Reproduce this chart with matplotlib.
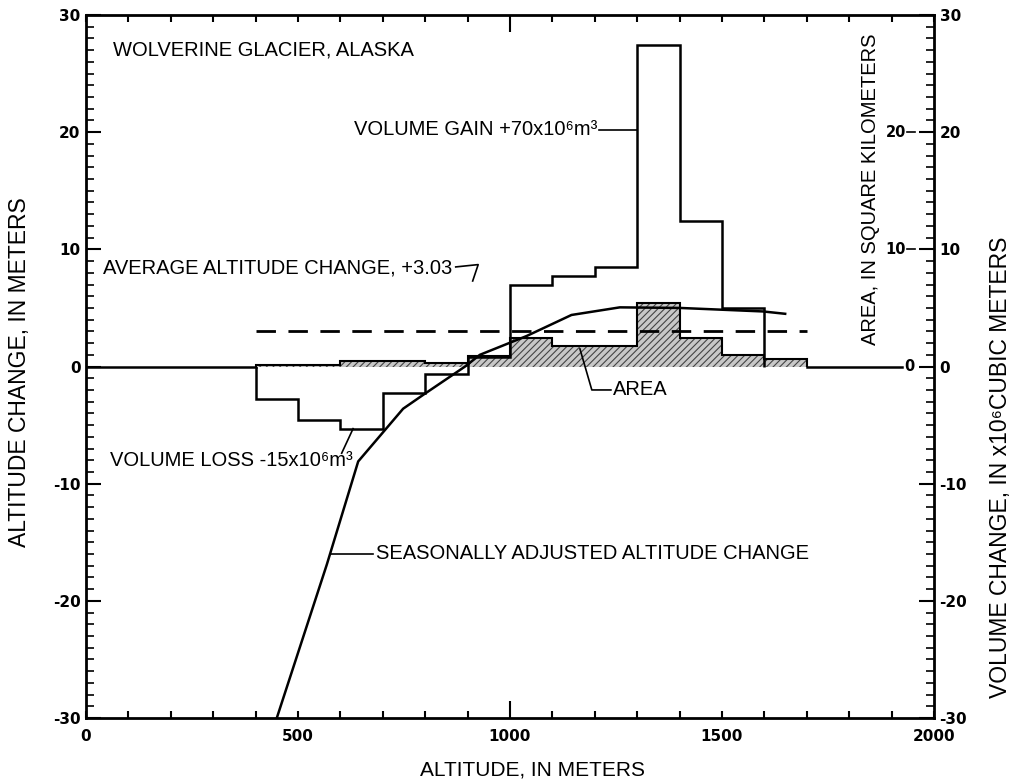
import numpy as np
import matplotlib
matplotlib.use("Agg")
import matplotlib.pyplot as plt

plt.rcParams['font.family'] = ['Liberation Sans', 'DejaVu Sans']
plt.rcParams['axes.unicode_minus'] = False
plt.rcParams['hatch.linewidth'] = 0.8

# volume change per 100 m altitude band (left scale, x10^6 m^3 on right)
vol_edges = [400, 500, 600, 700, 800, 900, 1000, 1100, 1200, 1300, 1400, 1500, 1600]
vol_change = [-2.8, -4.6, -5.3, -2.3, -0.6, 0.8, 7.0, 7.7, 8.5, 27.4, 12.4, 5.0]

# glacier area per band, km^2
area_edges = [400, 500, 600, 700, 800, 900, 1000, 1100, 1200, 1300, 1400, 1500, 1600, 1700]
area_km2 = [0.15, 0.15, 0.5, 0.5, 0.3, 0.9, 2.4, 1.75, 1.75, 5.4, 2.4, 1.0, 0.6]

# seasonally adjusted altitude change curve
curve_alt = [450, 568, 642, 748, 796, 894, 929, 1039, 1145, 1259, 1401, 1597, 1649]
curve_dz = [-30.0, -16.9, -8.1, -3.6, -2.4, 0.0, 1.0, 2.6, 4.4, 5.05, 5.0, 4.7, 4.5]

avg_change = 3.03
area_ticks = [0, 10, 20]

fig = plt.figure(figsize=(10.14, 7.83), dpi=100)
ax = fig.add_axes([0.0848, 0.0830, 0.8363, 0.8978])
ax.set_xlim(0, 2000)
ax.set_ylim(-30, 30)

for s in ax.spines.values():
    s.set_linewidth(2)

ax.set_xticks([0, 500, 1000, 1500, 2000])
ax.set_xticks(np.arange(0, 2001, 100), minor=True)
ax.set_yticks(np.arange(-30, 31, 10))
ax.set_yticks(np.arange(-30, 31, 1), minor=True)
ax.tick_params(axis='x', which='both', direction='in', top=True, bottom=True,
               length=5, width=1.5, pad=8, labelsize=11)
ax.tick_params(axis='y', which='major', direction='in', left=True, right=True,
               labelleft=True, labelright=True, length=11, width=1.5, pad=4, labelsize=11)
ax.tick_params(axis='y', which='minor', direction='in', left=True, right=True,
               length=6, width=1.2)
# longer tick at 1000 m, top and bottom
t1000 = ax.xaxis.get_major_ticks()[2]
t1000.tick1line.set_markersize(12)
t1000.tick2line.set_markersize(12)
for t in ax.xaxis.get_major_ticks() + ax.yaxis.get_major_ticks():
    for lab in (t.label1, t.label2):
        lab.set_fontweight('bold')
        lab.set_family('DejaVu Sans')

# zero line outside the glacier bands
ax.plot([0, vol_edges[0]], [0, 0], color='k', lw=1.8)
ax.plot([area_edges[-1], 1925], [0, 0], color='k', lw=1.8)

# area histogram, hatched and stippled grey
ax.stairs(area_km2, area_edges, baseline=0, fill=True, facecolor='#c8c8c8',
          edgecolor='#444444', hatch='/////', lw=0, zorder=2)
ax.stairs(area_km2, area_edges, baseline=0, color='k', lw=1.5, zorder=3)

# volume change outline
ax.stairs(vol_change, vol_edges, baseline=0, color='k', lw=1.8, zorder=3)

# average altitude change
ax.plot([vol_edges[0], area_edges[-1]], [avg_change, avg_change], color='k',
        lw=2, dashes=(7, 4.5), zorder=4)

# seasonally adjusted curve
ax.plot(curve_alt, curve_dz, color='k', lw=1.8, zorder=4)

tk = dict(fontsize=14.5, color='k')
ax.text(64, 27.0, 'WOLVERINE GLACIER, ALASKA', ha='left', va='center', **tk)

ax.text(1205, 20.2, 'VOLUME GAIN +70x10⁶m³', ha='right', va='center', **tk)
ax.plot([1210, vol_edges[9]], [20.2, 20.2], color='k', lw=1.2)

ax.text(40, 8.4, 'AVERAGE ALTITUDE CHANGE, +3.03', ha='left', va='center', **tk)
ax.plot([872, 925, 912], [8.5, 8.7, 7.3], color='k', lw=1.2)

ax.text(57, -8.0, 'VOLUME LOSS -15x10⁶m³', ha='left', va='center', **tk)
ax.plot([603, 630], [-7.4, vol_change[2]], color='k', lw=1.2)

ax.text(685, -16.0, 'SEASONALLY ADJUSTED ALTITUDE CHANGE', ha='left', va='center', **tk)
ax.plot([575, 678], [-16.0, -16.0], color='k', lw=1.2)

ax.text(1243, -2.0, 'AREA', ha='left', va='center', **tk)
ax.plot([1165, 1193, 1238], [1.5, -2.0, -2.0], color='k', lw=1.2)

# inner area scale labels
for v in area_ticks:
    if v == 0:
        ax.text(1941, v, '0', ha='center', va='center', fontsize=10.5,
                fontweight='bold', family='DejaVu Sans')
    else:
        ax.text(1934, v, str(v), ha='right', va='center', fontsize=10.5,
                fontweight='bold', family='DejaVu Sans')
        ax.plot([1936, 1955], [v, v], color='k', lw=1.2)

lab = dict(family=['Liberation Sans', 'DejaVu Sans'], color='k')
fig.text(20 / 1014, 1 - 372 / 783, 'ALTITUDE CHANGE, IN METERS', rotation=90,
         ha='center', va='center', fontsize=16.5, **lab)
fig.text(532 / 1014, 1 - 770 / 783, 'ALTITUDE, IN METERS', ha='center',
         va='center', fontsize=15, **lab)
fig.text(871 / 1014, 1 - 189 / 783, 'AREA, IN SQUARE KILOMETERS', rotation=90,
         ha='center', va='center', fontsize=14.5, **lab)
fig.text(1000 / 1014, 1 - 698 / 783, 'VOLUME CHANGE, IN x10⁶CUBIC METERS',
         rotation=90, ha='center', va='bottom', fontsize=16.5, **lab)

fig.savefig('out.png', dpi=100)
